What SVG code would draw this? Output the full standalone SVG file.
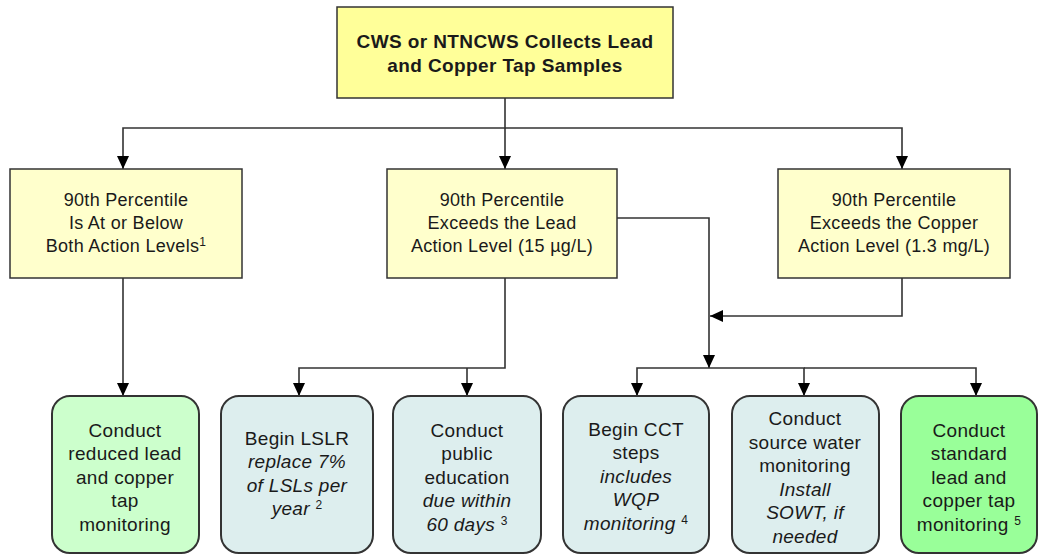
<svg xmlns="http://www.w3.org/2000/svg" width="1042" height="555" viewBox="0 0 1042 555">
<style>
text{font-family:"Liberation Sans",Arial,sans-serif;fill:#1a1a1a;text-anchor:middle}
.t{font-size:19px;font-weight:bold;letter-spacing:0.4px}
.m{font-size:18px;letter-spacing:0.3px}
.b{font-size:19px;letter-spacing:0.3px}
.i{font-style:italic}
.sup{font-size:12px}
.top{fill:#FFFF99;stroke:#333;stroke-width:1.5}
.lvl{fill:#FFFFCC;stroke:#333;stroke-width:1.5}
.rnd{stroke:#333;stroke-width:2}
.c{fill:none;stroke:#333;stroke-width:1.6}
</style>
<defs>
<marker id="ah" markerWidth="13" markerHeight="12" refX="13" refY="6" orient="auto" markerUnits="userSpaceOnUse">
<path d="M0,0 L13,6 L0,12 z" fill="#000"/>
</marker>
</defs>
<rect width="1042" height="555" fill="#fff"/>
<g id="connectors">
<path class="c" d="M505,98 V128 H123 V169" marker-end="url(#ah)"/>
<path class="c" d="M505,128 V169" marker-end="url(#ah)"/>
<path class="c" d="M505,128 H902 V169" marker-end="url(#ah)"/>
<path class="c" d="M123,278 V396" marker-end="url(#ah)"/>
<path class="c" d="M505,278 V368 H299 V396" marker-end="url(#ah)"/>
<path class="c" d="M467,368 V396" marker-end="url(#ah)"/>
<path class="c" d="M902,278 V316 H710" marker-end="url(#ah)"/>
<path class="c" d="M617,218 H709 V368" marker-end="url(#ah)"/>
<path class="c" d="M709,368 H637 V396" marker-end="url(#ah)"/>
<path class="c" d="M709,368 H804 V396" marker-end="url(#ah)"/>
<path class="c" d="M804,368 H976 V396" marker-end="url(#ah)"/>
</g>
<g id="n-collect">
<rect class="top" x="337" y="7" width="336" height="91"/>
<text class="t" x="505" y="48">CWS or NTNCWS Collects Lead</text>
<text class="t" x="505" y="72">and Copper Tap Samples</text>
</g>
<g id="n-below">
<rect class="lvl" x="10" y="169" width="232" height="109"/>
<text class="m" x="126" y="206">90th Percentile</text>
<text class="m" x="126" y="229">Is At or Below</text>
<text class="m" x="126" y="252">Both Action Levels<tspan class="sup" dy="-6">1</tspan></text>
</g>
<g id="n-lead">
<rect class="lvl" x="387" y="169" width="230" height="109"/>
<text class="m" x="502" y="206">90th Percentile</text>
<text class="m" x="502" y="229">Exceeds the Lead</text>
<text class="m" x="502" y="252">Action Level (15 µg/L)</text>
</g>
<g id="n-copper">
<rect class="lvl" x="778" y="169" width="232" height="109"/>
<text class="m" x="894" y="206">90th Percentile</text>
<text class="m" x="894" y="229">Exceeds the Copper</text>
<text class="m" x="894" y="252">Action Level (1.3 mg/L)</text>
</g>
<g id="n-reduced">
<rect class="rnd" x="52" y="396" width="147" height="157" rx="18" fill="#CCFFCC"/>
<text class="b" x="125" y="437">Conduct</text>
<text class="b" x="125" y="460">reduced lead</text>
<text class="b" x="125" y="484">and copper</text>
<text class="b" x="125" y="507">tap</text>
<text class="b" x="125" y="531">monitoring</text>
</g>
<g id="n-lslr">
<rect class="rnd" x="221" y="396" width="152" height="157" rx="18" fill="#DDEEEE"/>
<text class="b" x="297" y="445">Begin LSLR</text>
<text class="b i" x="297" y="468">replace 7%</text>
<text class="b i" x="297" y="492">of LSLs per</text>
<text class="b i" x="297" y="515">year <tspan class="sup" font-style="normal" dy="-6">2</tspan></text>
</g>
<g id="n-pe">
<rect class="rnd" x="393" y="396" width="148" height="157" rx="18" fill="#DDEEEE"/>
<text class="b" x="467" y="437">Conduct</text>
<text class="b" x="467" y="460">public</text>
<text class="b" x="467" y="484">education</text>
<text class="b i" x="467" y="507">due within</text>
<text class="b i" x="467" y="531">60 days <tspan class="sup" font-style="normal" dy="-6">3</tspan></text>
</g>
<g id="n-cct">
<rect class="rnd" x="563" y="396" width="146" height="157" rx="18" fill="#DDEEEE"/>
<text class="b" x="636" y="436">Begin CCT</text>
<text class="b" x="636" y="459">steps</text>
<text class="b i" x="636" y="483">includes</text>
<text class="b i" x="636" y="506">WQP</text>
<text class="b i" x="636" y="530">monitoring <tspan class="sup" font-style="normal" dy="-6">4</tspan></text>
</g>
<g id="n-source">
<rect class="rnd" x="732" y="396" width="147" height="157" rx="18" fill="#DDEEEE"/>
<text class="b" x="805" y="425">Conduct</text>
<text class="b" x="805" y="449">source water</text>
<text class="b" x="805" y="472">monitoring</text>
<text class="b i" x="805" y="496">Install</text>
<text class="b i" x="805" y="519">SOWT, if</text>
<text class="b i" x="805" y="543">needed</text>
</g>
<g id="n-standard">
<rect class="rnd" x="901" y="396" width="136" height="157" rx="18" fill="#99FF99"/>
<text class="b" x="969" y="437">Conduct</text>
<text class="b" x="969" y="460">standard</text>
<text class="b" x="969" y="484">lead and</text>
<text class="b" x="969" y="507">copper tap</text>
<text class="b" x="969" y="531">monitoring <tspan class="sup" dy="-6">5</tspan></text>
</g>
</svg>
